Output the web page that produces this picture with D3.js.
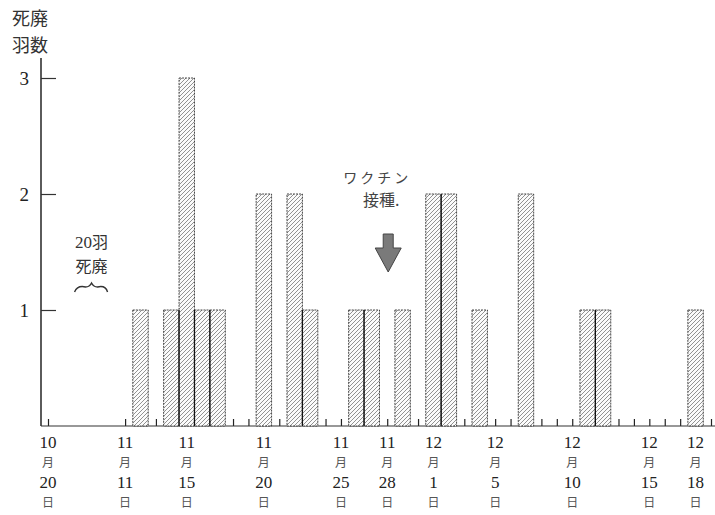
<!DOCTYPE html>
<html><head><meta charset="utf-8">
<script src="https://cdn.jsdelivr.net/npm/d3@7"></script>
<style>
html,body{margin:0;padding:0;background:#fff;}
svg{display:block;}
.num{font-family:"Liberation Serif","DejaVu Serif",serif;}
.jp{font-family:"Noto Sans CJK JP","Noto Sans CJK SC",sans-serif;font-weight:400;}
</style>
</head><body>
<svg id="chart" width="715" height="515"></svg>
<script>
// ---- data ----
const barDates  = ["11/12","11/14","11/15","11/16","11/17","11/20","11/22","11/23","11/26","11/27","11/29","12/1","12/2","12/4","12/7","12/11","12/12","12/18"];
const barValues = [1,1,3,1,1,2,2,1,1,1,1,2,2,1,2,1,1,1];
const labelDates = ["10/20","11/11","11/15","11/20","11/25","11/28","12/1","12/5","12/10","12/15","12/18"];
const yTicks = [1,2,3];
const vaccineDate = "11/28";
const axisBreakNote = ["20羽","死廃"];
const yTitle = ["死廃","羽数"];
const vaccineText = ["ワクチン","接種."];

// axis broken between 10/20 and 11/11 (shown as 5 slots)
function slot(d){
  const [m,day]=d.split("/").map(Number);
  if(m===10) return 0;
  if(m===11) return day-11+5;
  return day+24;
}
const tickSlots = [0];
for(let s=5;s<=43;s++) tickSlots.push(s);

const svg = d3.select("#chart");
const x = d3.scaleLinear().domain([0,43]).range([48,711]);
const step = x(1)-x(0);
const y = d3.scaleLinear().domain([0,3]).range([426,78]);

// hatch pattern
const defs = svg.append("defs");
const pat = defs.append("pattern").attr("id","hatch").attr("patternUnits","userSpaceOnUse")
  .attr("width",4).attr("height",4);
pat.append("rect").attr("width",4).attr("height",4).attr("fill","#fbfbfb");
pat.append("path").attr("d","M-1,1 l2,-2 M0,4 l4,-4 M3,5 l2,-2")
  .attr("stroke","#777").attr("stroke-width",0.8);

// x axis small ticks
const barSlots = barDates.map(slot);
const xAxis = d3.axisBottom(x).tickValues(tickSlots.filter(s=>!barSlots.includes(s)))
  .tickSize(-7).tickFormat("");
const gx = svg.append("g").attr("transform","translate(0,426)").call(xAxis);
gx.select(".domain").remove();
gx.selectAll(".tick line").attr("stroke","#222").attr("stroke-width",1.2);
svg.append("line").attr("x1",41).attr("x2",715).attr("y1",426).attr("y2",426)
  .attr("stroke","#333").attr("stroke-width",1.2);

// bars
const bars = barDates.map((d,i)=>({s:slot(d),v:barValues[i]}));
svg.append("g").selectAll("rect").data(bars).join("rect")
  .attr("x",d=>x(d.s)-step/2).attr("width",step)
  .attr("y",d=>y(d.v)).attr("height",d=>y(0)-y(d.v))
  .attr("fill","url(#hatch)").attr("stroke","#333").attr("stroke-width",0.9)
  .attr("stroke-dasharray","2,1");
// solid shared edges between adjacent bars
const slotsSet = new Set(bars.map(b=>b.s));
svg.append("g").selectAll("line").data(bars.filter(b=>slotsSet.has(b.s-1))).join("line")
  .attr("x1",d=>x(d.s)-step/2).attr("x2",d=>x(d.s)-step/2)
  .attr("y1",y(0)).attr("y2",d=>y(Math.min(d.v,bars.find(b=>b.s===d.s-1).v)))
  .attr("stroke","#111").attr("stroke-width",1.3);

// y axis
const yAxis = d3.axisLeft(y).tickValues(yTicks).tickSize(-15).tickPadding(12).tickFormat(d3.format("d"));
const gy = svg.append("g").attr("transform","translate(41,0)").call(yAxis);
gy.select(".domain").remove();
gy.selectAll(".tick line").attr("stroke","#333").attr("stroke-width",1.2);
gy.selectAll(".tick text").attr("class","num").attr("font-size",19).attr("fill","#222");
svg.append("line").attr("x1",41).attr("x2",41).attr("y1",58).attr("y2",426)
  .attr("stroke","#333").attr("stroke-width",1.6);

// y title
svg.append("g").selectAll("text").data(yTitle).join("text").attr("class","jp")
  .attr("x",30).attr("y",(d,i)=>25+i*27).attr("text-anchor","middle")
  .attr("font-size",18).attr("fill","#333").text(d=>d);

// x labels
const lg = svg.append("g").selectAll("g").data(labelDates).join("g")
  .attr("transform",d=>`translate(${x(slot(d))},0)`);
lg.append("text").attr("class","num").attr("y",448).attr("text-anchor","middle")
  .attr("font-size",17).attr("fill","#222").text(d=>d.split("/")[0]);
lg.append("text").attr("class","jp").attr("y",467).attr("text-anchor","middle")
  .attr("font-size",12).attr("fill","#555").text("月");
lg.append("text").attr("class","num").attr("y",488).attr("text-anchor","middle")
  .attr("font-size",17).attr("fill","#222").text(d=>d.split("/")[1]);
lg.append("text").attr("class","jp").attr("y",507).attr("text-anchor","middle")
  .attr("font-size",12).attr("fill","#555").text("日");

// axis-break note
const bx = (x(0)+x(5))/2+5;
svg.append("text").attr("x",bx).attr("y",248).attr("text-anchor","middle")
  .attr("fill","#333").attr("font-size",17)
  .call(t=>{t.append("tspan").attr("class","num").text("20");
            t.append("tspan").attr("class","jp").attr("font-size",16).text("羽");});
svg.append("text").attr("class","jp").attr("x",bx).attr("y",272).attr("text-anchor","middle")
  .attr("fill","#333").attr("font-size",16).text(axisBreakNote[1]);
svg.append("path")
  .attr("d",`M${bx-17},292 Q${bx-14},285 ${bx-6},287 Q${bx-2},287 ${bx},283 Q${bx+2},287 ${bx+6},287 Q${bx+14},285 ${bx+16},292`)
  .attr("fill","none").attr("stroke","#333").attr("stroke-width",1.4);

// vaccination arrow + text
const ax = x(slot(vaccineDate))+1;
svg.append("text").attr("class","jp").attr("x",ax-11).attr("y",183).attr("text-anchor","middle")
  .attr("font-size",14).attr("letter-spacing",3).attr("fill","#444").text(vaccineText[0]);
svg.append("text").attr("class","jp").attr("x",ax-7).attr("y",206).attr("text-anchor","middle")
  .attr("font-size",16).attr("fill","#444").text(vaccineText[1]);
svg.append("path")
  .attr("d",`M${ax-5},234 L${ax+5},234 L${ax+5},248 L${ax+13},248 L${ax},272 L${ax-13},248 L${ax-5},248 Z`)
  .attr("fill","#7a7a7a").attr("stroke","#444").attr("stroke-width",1);
</script>
</body></html>
